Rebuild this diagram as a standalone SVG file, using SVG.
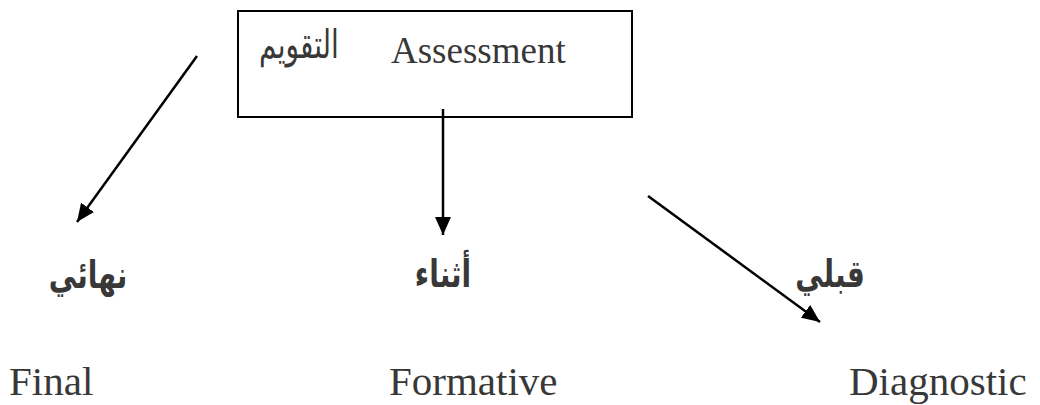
<svg xmlns="http://www.w3.org/2000/svg" width="1040" height="405" viewBox="0 0 1040 405">
<defs>
<style>
.en{font-family:"Liberation Serif","Times New Roman",serif;fill:#383838;}
.ar{font-family:"DejaVu Sans",sans-serif;fill:#383838;}
.edge{stroke:#000;stroke-width:2.5;fill:none;marker-end:url(#ah);}
</style>
<marker id="ah" markerUnits="userSpaceOnUse" markerWidth="20" markerHeight="16" refX="18" refY="8" orient="auto">
<path d="M0,0 L18,8 L0,16 Z" fill="#000"/>
</marker>
</defs>
<rect width="1040" height="405" fill="#fff"/>
<g id="assessment">
<rect x="238" y="11" width="394" height="106" fill="none" stroke="#000" stroke-width="2"/>
<text class="ar" transform="translate(299,58) scale(1,1.4)" font-size="28" text-anchor="middle" direction="rtl">التقويم</text>
<text class="en" x="391" y="63" font-size="37">Assessment</text>
</g>
<g id="final">
<text class="ar" transform="translate(88,288) scale(1,1.35)" font-size="28" font-weight="bold" text-anchor="middle" direction="rtl">نهائي</text>
<text class="en" x="9" y="395" font-size="41">Final</text>
</g>
<g id="formative">
<text class="ar" transform="translate(443,287) scale(1,1.35)" font-size="28" font-weight="bold" text-anchor="middle" direction="rtl">أثناء</text>
<text class="en" x="389" y="395" font-size="41">Formative</text>
</g>
<g id="diagnostic">
<text class="ar" transform="translate(830,287) scale(1,1.35)" font-size="28" font-weight="bold" text-anchor="middle" direction="rtl">قبلي</text>
<text class="en" x="849" y="395" font-size="41" font-family="Liberation Serif, serif">Diagnostic</text>
</g>
<g id="connectors">
<line class="edge" x1="197" y1="56" x2="77" y2="222"/>
<line class="edge" x1="443" y1="109" x2="443" y2="235"/>
<line class="edge" x1="648" y1="196" x2="820" y2="322"/>
</g>
</svg>
